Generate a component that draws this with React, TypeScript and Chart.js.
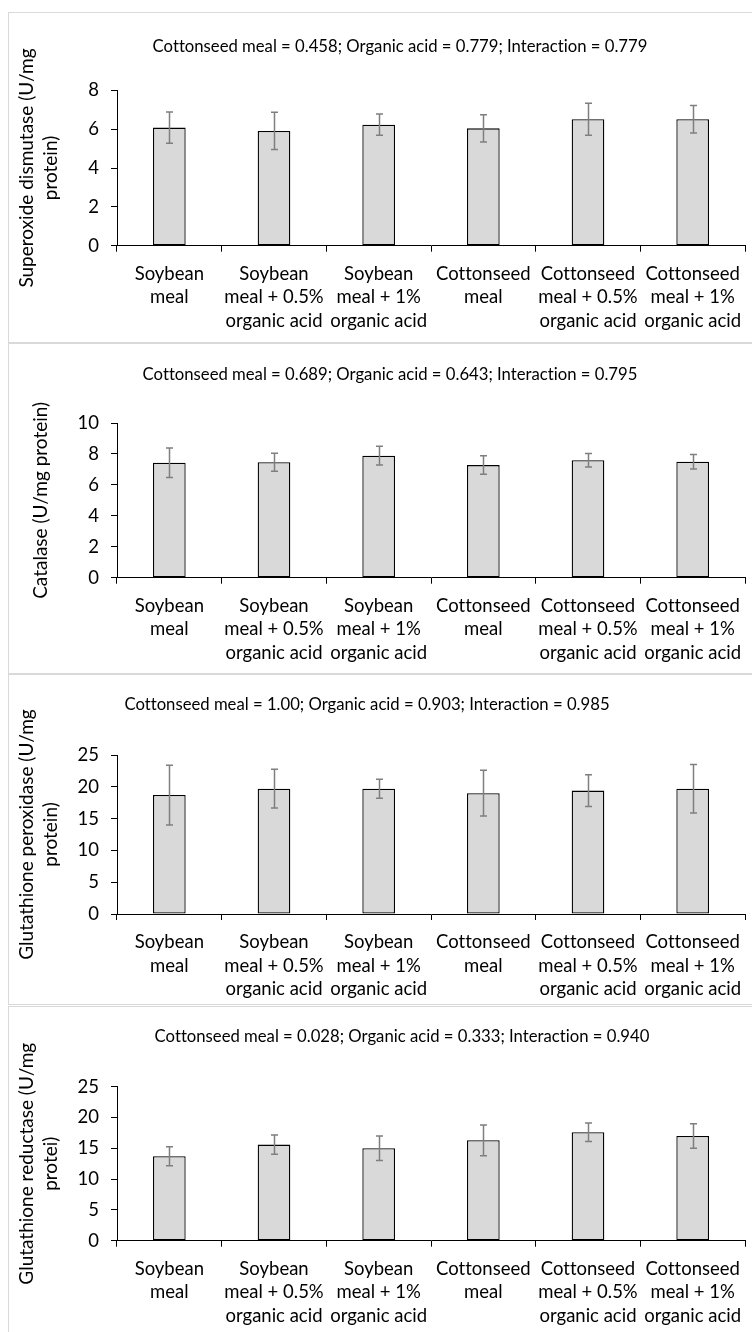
import React, { useEffect, useRef } from "react";
import { Chart, registerables } from "chart.js";

Chart.register(...registerables);

// ---------------- data ----------------
const categories: string[][] = [
  ["Soybean", "meal"],
  ["Soybean", "meal + 0.5%", "organic acid"],
  ["Soybean", "meal + 1%", "organic acid"],
  ["Cottonseed", "meal"],
  ["Cottonseed", "meal + 0.5%", "organic acid"],
  ["Cottonseed", "meal + 1%", "organic acid"],
];

const sodMeans = [6.08, 5.91, 6.23, 6.04, 6.51, 6.51];
const sodSD = [0.8, 0.96, 0.55, 0.7, 0.82, 0.71];
const sodTicks = [0, 2, 4, 6, 8];
const sodTitle = "Cottonseed meal = 0.458; Organic acid = 0.779; Interaction = 0.779";
const sodAxis = ["Superoxide dismutase (U/mg", "protein)"];

const catMeans = [7.43, 7.46, 7.89, 7.28, 7.59, 7.5];
const catSD = [0.95, 0.58, 0.61, 0.6, 0.44, 0.47];
const catTicks = [0, 2, 4, 6, 8, 10];
const catTitle = "Cottonseed meal = 0.689; Organic acid = 0.643; Interaction = 0.795";
const catAxis = ["Catalase (U/mg protein)"];

const gpxMeans = [18.7, 19.7, 19.7, 19.0, 19.4, 19.7];
const gpxSD = [4.7, 3.05, 1.5, 3.6, 2.5, 3.8];
const gpxTicks = [0, 5, 10, 15, 20, 25];
const gpxTitle = "Cottonseed meal = 1.00; Organic acid = 0.903; Interaction = 0.985";
const gpxAxis = ["Glutathione peroxidase (U/mg", "protein)"];

const grMeans = [13.7, 15.6, 15.0, 16.3, 17.6, 17.0];
const grSD = [1.55, 1.55, 2.0, 2.5, 1.5, 2.0];
const grTicks = [0, 5, 10, 15, 20, 25];
const grTitle = "Cottonseed meal = 0.028; Organic acid = 0.333; Interaction = 0.940";
const grAxis = ["Glutathione reductase (U/mg", "protei)"];

// ---------------- layout / style ----------------
const FONT = "Lato, 'Open Sans', sans-serif";
const CANVAS_W = 760;
const CANVAS_H = 329;
const AXIS_LEFT = 108;
const AXIS_RIGHT = 736;
const TITLE_SIZE = 16.7;
const LABEL_SIZE = 18.5;
const AXIS_TITLE_SIZE = 19;

const panels = [
  { top: 12, means: sodMeans, sd: sodSD, ticks: sodTicks, title: sodTitle, axis: sodAxis, titleX: 391, titleY: 33.7, areaTop: 77.3, areaBottom: 232.7, axisTitleX: 17.4 },
  { top: 343, means: catMeans, sd: catSD, ticks: catTicks, title: catTitle, axis: catAxis, titleX: 381, titleY: 31, areaTop: 79, areaBottom: 233.7, axisTitleX: 31.8 },
  { top: 674, means: gpxMeans, sd: gpxSD, ticks: gpxTicks, title: gpxTitle, axis: gpxAxis, titleX: 358, titleY: 30, areaTop: 80, areaBottom: 239, axisTitleX: 17.4 },
  { top: 1006, means: grMeans, sd: grSD, ticks: grTicks, title: grTitle, axis: grAxis, titleX: 393, titleY: 29.7, areaTop: 79.7, areaBottom: 233.7, axisTitleX: 17.4 },
];

const textPlugin = {
  id: "plainText",
  beforeDraw(chart: any) {
    const ctx = chart.ctx as any;
    try {
      ctx.textRendering = "optimizeSpeed";
    } catch (e) {
      /* ignore */
    }
  },
};

const errorBarPlugin = {
  id: "errorBars",
  afterDatasetsDraw(chart: any, _args: any, opts: any) {
    const sd: number[] = opts.sd || [];
    const meta = chart.getDatasetMeta(0);
    const yScale = chart.scales.y;
    const values = chart.data.datasets[0].data as number[];
    const ctx = chart.ctx as CanvasRenderingContext2D;
    const cap = opts.cap;
    ctx.save();
    ctx.strokeStyle = opts.color;
    ctx.lineWidth = opts.width;
    meta.data.forEach((bar: any, i: number) => {
      const v = values[i];
      const x = Math.round(bar.x) + 0.5;
      const yTop = yScale.getPixelForValue(v + sd[i]);
      const yBot = yScale.getPixelForValue(v - sd[i]);
      ctx.beginPath();
      ctx.moveTo(x, yTop);
      ctx.lineTo(x, yBot);
      ctx.moveTo(x - cap, yTop);
      ctx.lineTo(x + cap, yTop);
      ctx.moveTo(x - cap, yBot);
      ctx.lineTo(x + cap, yBot);
      ctx.stroke();
    });
    ctx.restore();
  },
};

function makeConfig(p: any): any {
  const L = 2 * p.titleX - AXIS_RIGHT;
  const titleLH = TITLE_SIZE * 1.2;
  const padTop = p.titleY - titleLH / 2;
  const padBottom = p.areaTop - padTop - titleLH;
  const axisLH = 24;
  const ticks: number[] = p.ticks;
  return {
    type: "bar",
    data: {
      labels: categories,
      datasets: [
        {
          data: p.means,
          backgroundColor: "#d9d9d9",
          borderColor: "#000000",
          borderWidth: 1.3,
          borderSkipped: false,
          barPercentage: 0.312,
          categoryPercentage: 1,
        },
      ],
    },
    options: {
      responsive: false,
      animation: false,
      devicePixelRatio: 1,
      layout: { padding: { left: L, right: CANVAS_W - AXIS_RIGHT, top: 0, bottom: 0 } },
      plugins: {
        legend: { display: false },
        tooltip: { enabled: false },
        title: {
          display: true,
          text: p.title,
          color: "#000000",
          font: { family: FONT, size: TITLE_SIZE, weight: "normal", lineHeight: 1.2 },
          padding: { top: padTop, bottom: padBottom },
        },
        errorBars: { sd: p.sd, color: "#7f7f7f", width: 1.5, cap: 3.5 },
      },
      scales: {
        x: {
          grid: { display: true, drawOnChartArea: false, color: "#000000", tickLength: 6, offset: true, tickWidth: 1 },
          border: { display: true, color: "#000000", width: 1 },
          ticks: {
            color: "#000000",
            font: { family: FONT, size: LABEL_SIZE, lineHeight: "23.5px" },
            autoSkip: false,
            maxRotation: 0,
            minRotation: 0,
            padding: 10.5,
          },
          afterFit: (s: any) => {
            s.height = CANVAS_H - p.areaBottom;
          },
        },
        y: {
          min: ticks[0],
          max: ticks[ticks.length - 1],
          ticks: {
            stepSize: ticks[1] - ticks[0],
            color: "#000000",
            font: { family: FONT, size: LABEL_SIZE },
            padding: 12,
          },
          grid: { display: true, drawOnChartArea: false, color: "#000000", tickLength: 6, tickWidth: 1 },
          border: { display: true, color: "#000000", width: 1 },
          title: {
            display: true,
            text: p.axis,
            color: "#000000",
            font: { family: FONT, size: AXIS_TITLE_SIZE, lineHeight: axisLH + "px" },
            padding: { top: p.axisTitleX - axisLH / 2 - L, bottom: 0 },
          },
          afterFit: (s: any) => {
            s.width = AXIS_LEFT - L;
          },
        },
      },
    },
    plugins: [textPlugin, errorBarPlugin],
  };
}

function Panel({ spec }: { spec: any }) {
  const ref = useRef<HTMLCanvasElement>(null);
  useEffect(() => {
    const chart = new Chart(ref.current as HTMLCanvasElement, makeConfig(spec));
    return () => chart.destroy();
  }, [spec]);
  return (
    <div
      style={{
        position: "absolute",
        left: 8,
        top: spec.top,
        width: 800,
        height: CANVAS_H,
        border: "1px solid #d9d9d9",
        background: "#ffffff",
      }}
    >
      <canvas
        ref={ref}
        width={CANVAS_W}
        height={CANVAS_H}
        style={{ display: "block", width: CANVAS_W, height: CANVAS_H }}
      />
    </div>
  );
}

export default function App() {
  return (
    <div
      style={{
        position: "fixed",
        left: 0,
        top: 0,
        width: 752,
        height: 1332,
        overflow: "hidden",
        background: "#ffffff",
      }}
    >
      {panels.map((p, i) => (
        <Panel key={i} spec={p} />
      ))}
    </div>
  );
}
